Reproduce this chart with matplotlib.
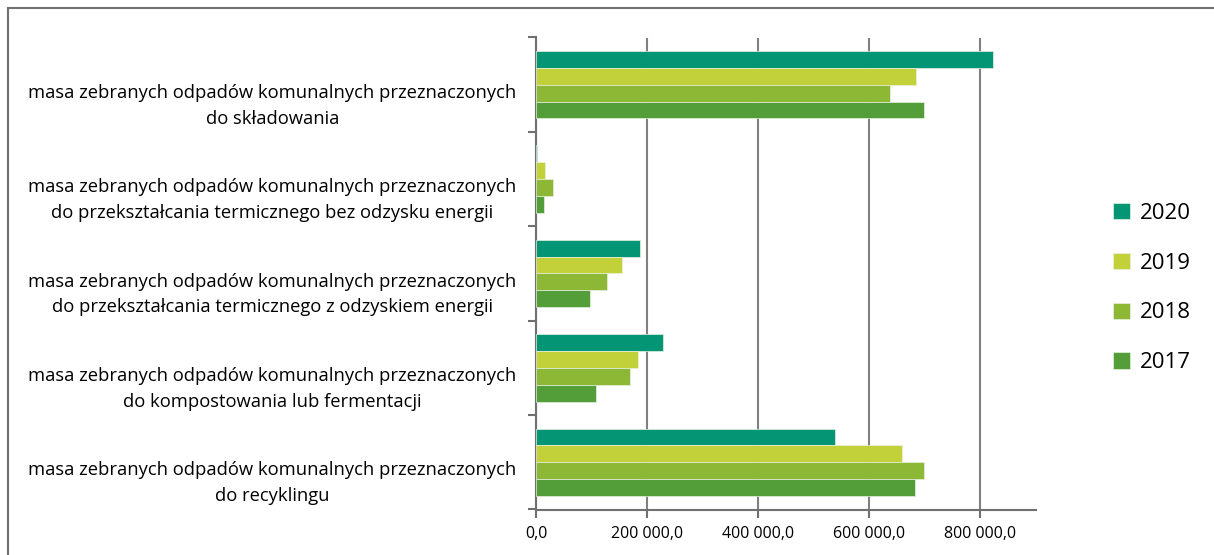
import matplotlib.pyplot as plt
import numpy as np
from matplotlib.patches import Rectangle

categories = [
    'masa zebranych odpadów komunalnych przeznaczonych\ndo składowania',
    'masa zebranych odpadów komunalnych przeznaczonych\ndo przekształcania termicznego bez odzysku energii',
    'masa zebranych odpadów komunalnych przeznaczonych\ndo przekształcania termicznego z odzyskiem energii',
    'masa zebranych odpadów komunalnych przeznaczonych\ndo kompostowania lub fermentacji',
    'masa zebranych odpadów komunalnych przeznaczonych\ndo recyklingu',
]
years = ['2020', '2019', '2018', '2017']
v2020 = [822600, 2000, 187000, 228600, 538000]
v2019 = [684800, 17000, 154000, 183000, 659500]
v2018 = [636700, 30600, 128000, 169000, 698000]
v2017 = [698500, 13900, 97000, 108000, 682000]
colors = ['#039574', '#C2D13A', '#8CB835', '#549E39']

plt.rcParams['font.family'] = ['Open Sans', 'DejaVu Sans']

fig = plt.figure(figsize=(12.14, 5.55), dpi=100)
ax = fig.add_axes([536 / 1214, 1 - 509.5 / 555, 500 / 1214, 472 / 555])

# frame around the figure (only left/top visible)
fig.patches.append(Rectangle((8 / 1214, -0.1), 1.2, 1 - 8 / 555 + 0.1,
                             transform=fig.transFigure, fill=False,
                             edgecolor='#707070', linewidth=1.5))

n = len(categories)
centers = np.arange(n)[::-1]  # first category at top
h = 17 / 95
series = [v2020, v2019, v2018, v2017]
for i, (vals, c, yr) in enumerate(zip(series, colors, years)):
    offs = (1.5 - i) * h
    ax.barh(centers + offs, vals, height=h, color=c, edgecolor='#e8f0e0',
            linewidth=0.5, label=yr, zorder=3)

ax.set_xlim(0, 900000)
ax.set_ylim(-0.5, n - 0.5)
ax.set_xticks([0, 200000, 400000, 600000, 800000])
ax.set_xticklabels(['0,0', '200 000,0', '400 000,0', '600 000,0', '800 000,0'], fontsize=11.5)
ax.grid(axis='x', color='#808080', linewidth=1.5, zorder=0)

# labels sit a bit below the group centre, like in the original
ax.set_yticks(centers - 0.16)
ax.set_yticklabels(categories, fontsize=13.2, multialignment='center', linespacing=1.55)
ax.tick_params(axis='y', which='major', length=0, pad=14)
ax.set_yticks(np.arange(-0.5, n, 1.0), minor=True)
ax.tick_params(axis='y', which='minor', length=6, width=1.5, color='#707070')
ax.tick_params(axis='x', length=6, width=1.5, color='#707070', pad=6)

for s in ['top', 'right']:
    ax.spines[s].set_visible(False)
for s in ['left', 'bottom']:
    ax.spines[s].set_color('#707070')
    ax.spines[s].set_linewidth(1.5)

fig.legend(loc='center', bbox_to_anchor=(1152 / 1214, 1 - 288 / 555),
           frameon=False, fontsize=16, handlelength=0.75, handleheight=0.75,
           labelspacing=1.3, handletextpad=0.45)

plt.savefig('out.png', dpi=100)
